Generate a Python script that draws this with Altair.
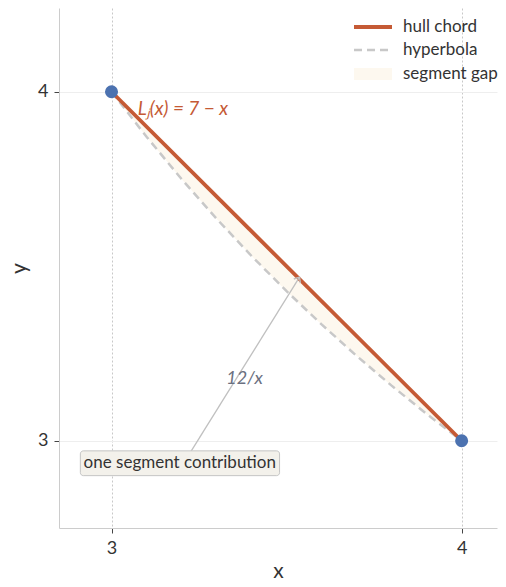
import altair as alt
import pandas as pd

# ---- data ----
chord_x = [3, 4]
chord_y = [4, 3]
hyper_x = [3.0, 3.1, 3.2, 3.3, 3.4, 3.5, 3.6, 3.7, 3.8, 3.9, 4.0]
legend_labels = ["hull chord", "hyperbola", "segment gap"]
ticks = [3, 4]

chord = pd.DataFrame({"x": chord_x, "y": chord_y})
hyper = pd.DataFrame({"x": hyper_x})

FONT = "Lato"
ORANGE = "#c55a35"
GRAY = "#c8c8c8"
CREAM = "#fdf8ef"
BLUE = "#4c72b0"

xs = alt.Scale(domain=[2.85, 4.101], nice=False, zero=False)
ys = alt.Scale(domain=[2.75, 4.24], nice=False, zero=False)

xax = alt.Axis(values=ticks, format="d", grid=True, gridDash=[2, 2], gridColor="#c8c8c8",
               domainColor="#cccccc", tickColor="#444444", tickSize=5, labelFontSize=18,
               labelColor="#333333", titleFontSize=21, titleFontWeight="normal", titleColor="#333333",
               labelPadding=6, titlePadding=3, labelFont=FONT, titleFont=FONT)
yax = alt.Axis(values=ticks, format="d", grid=True, gridColor="#eeeeee",
               domainColor="#cccccc", tickColor="#444444", tickSize=5, labelFontSize=18,
               labelColor="#333333", titleFontSize=21, titleFontWeight="normal", titleColor="#333333",
               labelPadding=6, titlePadding=8, labelFont=FONT, titleFont=FONT)

X = alt.X("x:Q", scale=xs, axis=xax, title="x")
Y = alt.Y("y:Q", scale=ys, axis=yax, title="y")

gap = alt.Chart(hyper).transform_calculate(
    y="12/datum.x", c="7-datum.x"
).mark_area(color=CREAM, opacity=1).encode(x=X, y=Y, y2="c:Q")

hyp = alt.Chart(hyper).transform_calculate(y="12/datum.x").mark_line(
    color=GRAY, strokeWidth=2.5, strokeDash=[8, 5]
).encode(x=X, y=Y)

line = alt.Chart(chord).mark_line(color=ORANGE, strokeWidth=3.8).encode(x=X, y=Y)
pts = alt.Chart(chord).mark_circle(color=BLUE, size=170, opacity=1).encode(x=X, y=Y)

ltext = alt.Chart(pd.DataFrame({"x": [3.075], "y": [3.95], "t": ["Lⱼ(x) = 7 − x"]})).mark_text(
    font=FONT, fontSize=19, fontStyle="italic", color=ORANGE, align="left", baseline="middle"
).encode(x=X, y=Y, text="t:N")

htext = alt.Chart(pd.DataFrame({"x": [3.38], "y": [3.177], "t": ["12/x"]})).mark_text(
    font=FONT, fontSize=18, fontStyle="italic", color="#6b7080", align="center", baseline="middle"
).encode(x=X, y=Y, text="t:N")

arrow = alt.Chart(pd.DataFrame({"x": [3.223], "y": [2.963], "x2": [3.537], "y2": [3.469]})).mark_rule(
    color="#c0c0c0", strokeWidth=1.3
).encode(x=X, y=Y, x2="x2:Q", y2="y2:Q")

head = alt.Chart(pd.DataFrame({"x": [3.537], "y": [3.469]})).mark_point(
    shape="M-1,1.2L0,0L1,1.2", filled=False, color="#c0c0c0", strokeWidth=1.4, size=60,
    angle=32, opacity=1
).encode(x=X, y=Y)

box = alt.Chart(pd.DataFrame({"x": [2.911], "x2": [3.48], "y": [2.971], "y2": [2.9]})).mark_rect(
    fill="#f3f1eb", stroke="#c4c4c4", strokeWidth=1, cornerRadius=3
).encode(x=X, x2="x2:Q", y=Y, y2="y2:Q")

btext = alt.Chart(pd.DataFrame({"x": [3.195], "y": [2.935], "t": ["one segment contribution"]})).mark_text(
    font=FONT, fontSize=17, color="#333333", align="center", baseline="middle"
).encode(x=X, y=Y, text="t:N")

# ---- manual legend ----
one = pd.DataFrame({"k": [0]})
leg_line = alt.Chart(one).mark_rule(color=ORANGE, strokeWidth=4).encode(
    x=alt.value(295), x2=alt.value(333), y=alt.value(19))
leg_dash = alt.Chart(one).mark_rule(color=GRAY, strokeWidth=2.5, strokeDash=[8, 5]).encode(
    x=alt.value(295), x2=alt.value(333), y=alt.value(42))
leg_rect = alt.Chart(one).mark_rect(color=CREAM).encode(
    x=alt.value(295), x2=alt.value(333), y=alt.value(60), y2=alt.value(72))

def leg_txt(label, ypos):
    return alt.Chart(one).mark_text(
        font=FONT, fontSize=17, color="#333333", align="left", baseline="middle", text=label
    ).encode(x=alt.value(344), y=alt.value(ypos))

chart = alt.layer(
    gap, hyp, line, arrow, head, box, btext, pts, ltext, htext,
    leg_line, leg_dash, leg_rect,
    leg_txt(legend_labels[0], 19), leg_txt(legend_labels[1], 42), leg_txt(legend_labels[2], 66)
).properties(
    width=438, height=520, padding={"left": 0, "top": 0, "right": 0, "bottom": 0}
).configure(font=FONT, view=alt.ViewConfig(stroke=None))

chart.save("out.html", embed_options={"renderer": "svg", "actions": False})
